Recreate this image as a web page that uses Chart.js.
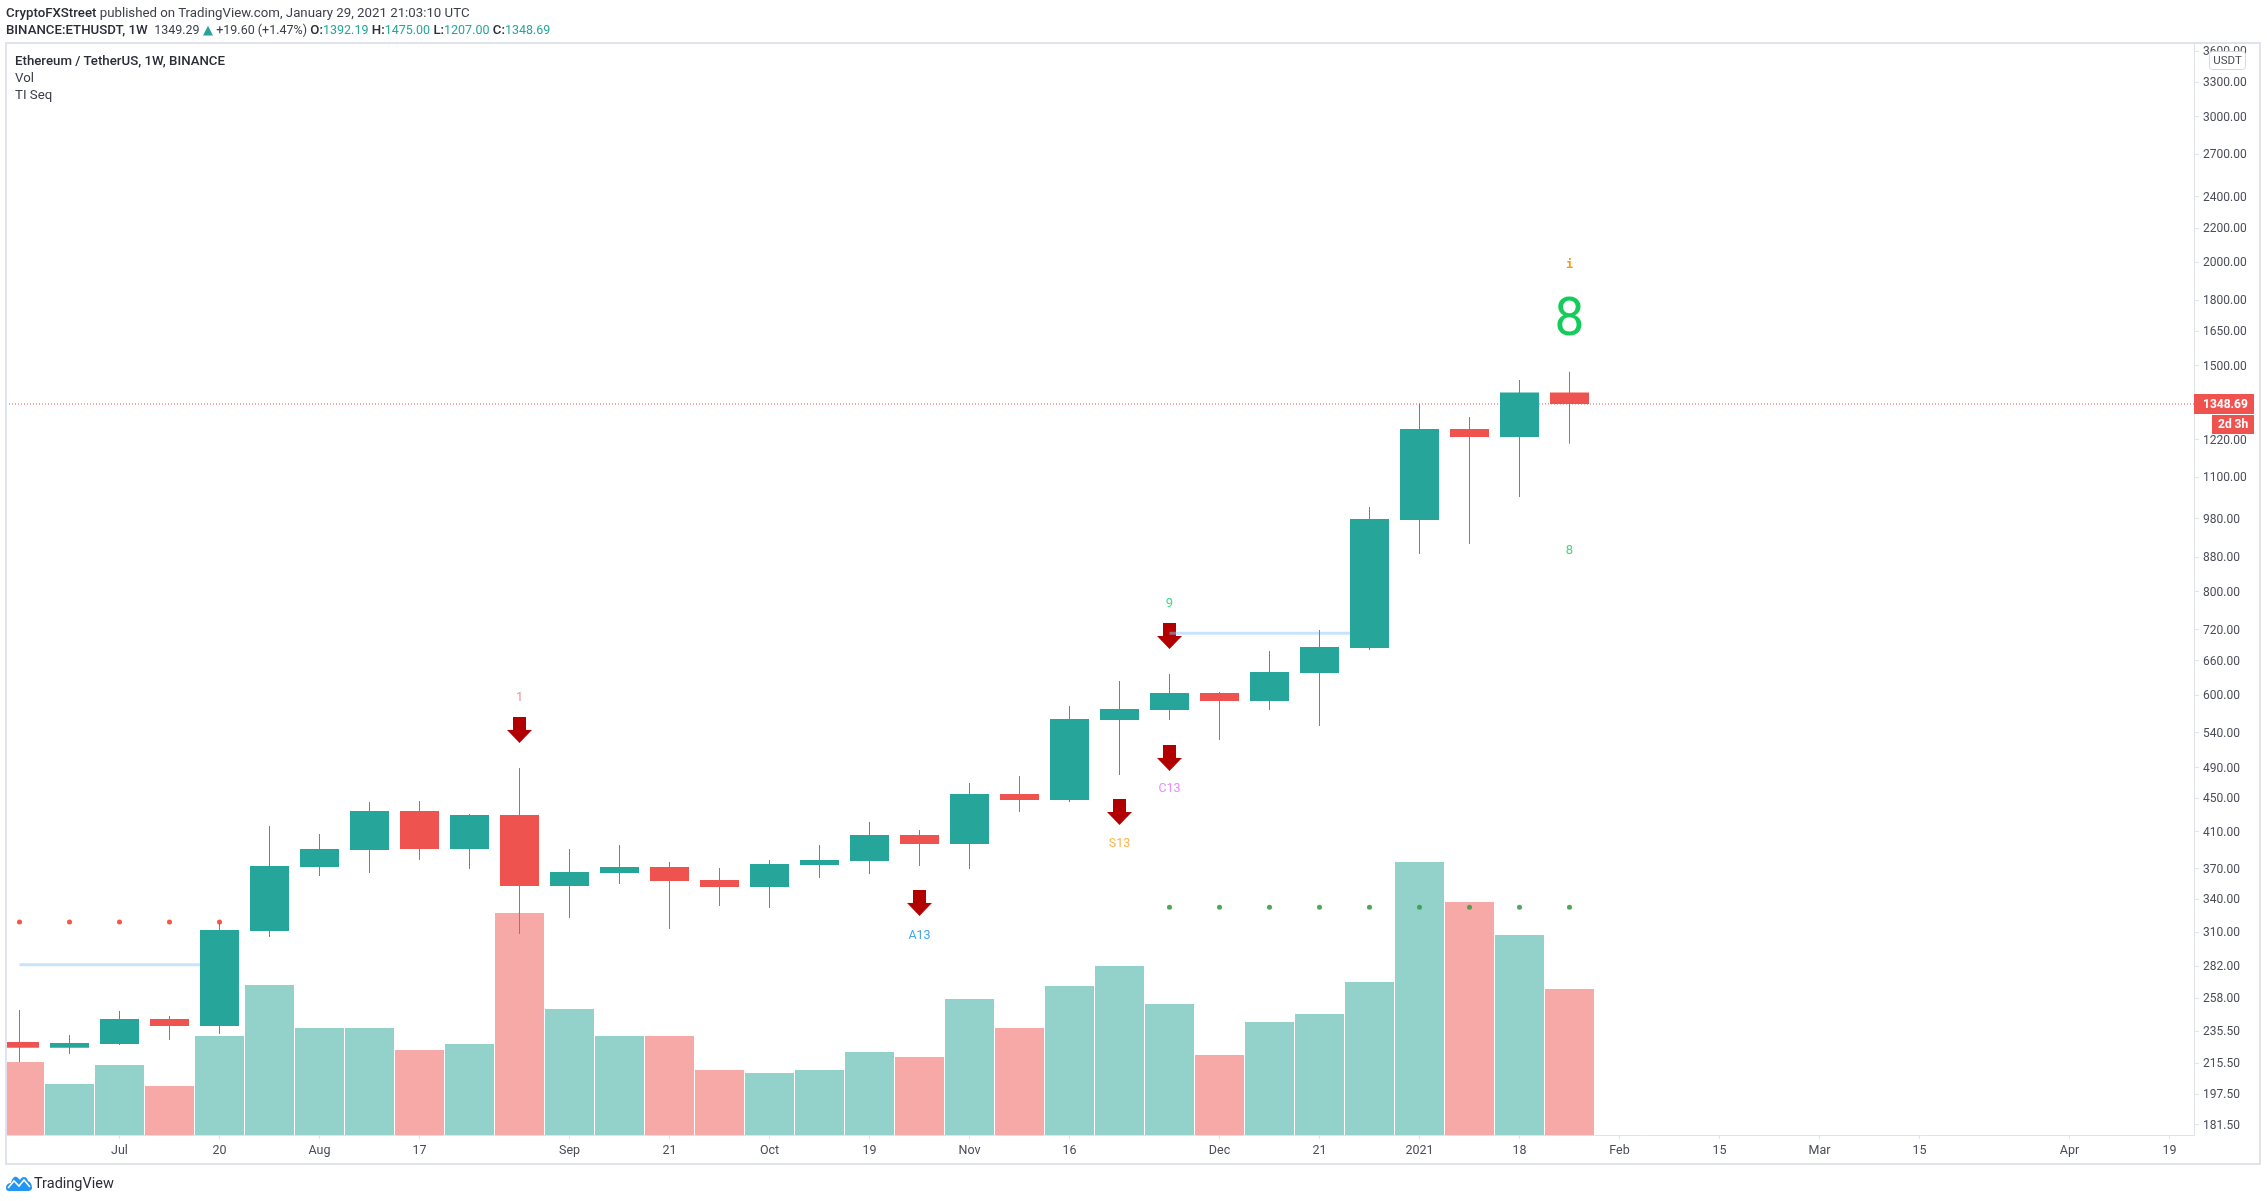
<!DOCTYPE html>
<html>
<head>
<meta charset="utf-8">
<title>ETHUSDT 1W</title>
<script src="https://cdn.jsdelivr.net/npm/chart.js@4/dist/chart.umd.min.js"></script>
<style>
  html, body { margin: 0; padding: 0; background: #fff; }
  #wrap { position: relative; width: 2267px; height: 1201px; overflow: hidden; font-family: Roboto, sans-serif; color: #3c3f4a; }
  canvas { position: absolute; left: 0; top: 0; }
  .t { position: absolute; white-space: nowrap; font-size: 13.25px; line-height: 17px; }
  .b { font-weight: 500; color: #2a2d38; }
  .g { color: #26a69a; }
  .n { font-size: 12.5px; }
</style>
</head>
<body>
<div id="wrap">
  <canvas id="chart" width="2267" height="1201"></canvas>
  <div class="t" style="left:6px;top:4px"><span class="b">CryptoFXStreet</span> published on TradingView.com, January 29, 2021 21:03:10 UTC</div>
  <div class="t" style="left:6px;top:21px"><span class="b">BINANCE:ETHUSDT, 1W</span>&nbsp; <span class="n">1349.29</span> <span class="g" style="font:13px/17px 'DejaVu Sans'">&#9650;</span> <span class="n">+19.60 (+1.47%)</span> <span class="b">O:</span><span class="g n">1392.19</span> <span class="b">H:</span><span class="g n">1475.00</span> <span class="b">L:</span><span class="g n">1207.00</span> <span class="b">C:</span><span class="g n">1348.69</span></div>
  <div class="t" style="left:15px;top:52px"><span class="b">Ethereum / TetherUS, 1W, BINANCE</span></div>
  <div class="t" style="left:15px;top:69px">Vol</div>
  <div class="t" style="left:15px;top:86px">TI Seq</div>
  <svg style="position:absolute;left:6px;top:1175px" width="26" height="16" viewBox="0 0 26 16">
    <path d="M0 13 C0 9 3 8 5 8 C6 3 9 0 12 3 L14 5 C16 1 21 1 22 6 C25 7 26 10 26 13 C26 15 24 16 22 16 L3 16 C1 16 0 15 0 13 Z" fill="#2196f3"/>
    <path d="M2 13 L8 6 L13 11 L18 5 L24 12" fill="none" stroke="#fff" stroke-width="1.6"/>
  </svg>
  <div class="t" style="left:34px;top:1175px;font-size:14.5px;color:#2a2d38">TradingView</div>
</div>
<script>
// weekly candles
var opens  = [228.5,224.8,227.3,243.6,238.9,311.2,371.9,389.9,434.6,391.0,429.8,352.8,365.8,371.9,358.7,351.8,374.0,378.2,406.5,396.5,455.6,448.1,559.8,575.7,603.5,590.2,638.0,684.0,976.7,1258.1,1230.4,1392.19];
var highs  = [249.8,233.0,249.1,245.7,318.2,416.9,407.7,445.6,446.9,431.0,489.9,391.0,395.4,377.1,370.9,379.2,395.4,421.5,412.2,469.8,479.1,582.1,624.0,636.3,605.2,678.3,719.1,1012.7,1350,1300.8,1441.9,1475];
var lows   = [216.2,221.0,226.6,229.8,233.7,306.1,362.7,365.8,379.2,369.8,308.7,322.7,354.7,313.0,333.6,331.8,360.7,364.7,372.9,369.8,433.4,445.6,480.4,559.8,529.5,575.7,550.6,680.2,888.5,913.6,1041.2,1207];
var closes = [224.8,227.9,243.6,238.9,312.1,372.9,391.0,434.6,391.0,429.8,352.8,366.8,371.9,357.7,351.8,375.0,379.2,406.5,396.5,455.6,448.1,561.4,577.2,603.5,590.2,639.8,685.9,979.4,1258.1,1230.4,1392.19,1348.69];
var volumes = [73,51,70,49,99,150,107,107,85,91,222,126,99,99,65,62,65,83,78,136,107,149,169,131,80,113,121,153,273,233,200,146];

var priceTicks = [3600,3300,3000,2700,2400,2200,2000,1800,1650,1500,1220,1100,980,880,800,720,660,600,540,490,450,410,370,340,310,282,258,235.5,215.5,197.5,181.5];
var timeTicks  = [2,4,6,8,11,13,15,17,19,21,24,26,28,30,32,34,36,38,41,43];
var timeLabels = ['Jul','20','Aug','17','Sep','21','Oct','19','Nov','16','Dec','21','2021','18','Feb','15','Mar','15','Apr','19'];

// TD sequential marks
var redDotIdx = [0,1,2,3,4];
var redDotVal = 319.1;
var greenDotIdx = [23,24,25,26,27,28,29,30,31];
var greenDotVal = 332.5;
var arrowIdx = [10,18,22,23,23];
var arrowVal = [544.5,336.5,433.4,503.7,707.2];
var seqIdx  = [10,23,23,22,18,31,31,31];
var seqVal  = [596.8,775.2,463.3,397.6,307.8,898.5,1700,1991];
var seqText = ['1','9','C13','S13','A13','8','8','i'];
var seqSize = [12,13,12.5,12.5,12.5,13,53,12];
var seqColor = ['#f88a8c','#3ddc7f','#e58cff','#ffb347','#42a5f5','#3ddc7f','#14cc5a','#ff9800'];
var levelIdx = [[0,4],[23,27]];
var levelVal = [283.2,712.6];

var lastClose = closes[closes.length - 1];
var up = '#26a69a', down = '#ef5350';
var frame = '#e0e3eb', tickText = '#4a4d58';
var idx = closes.map(function(c, i) { return i; });
function isUp(i) { return closes[i] >= opens[i]; }
function candleColor(i) { return isUp(i) ? up : down; }

// arrow used as a point style
function makeArrow() {
    var c = document.createElement('canvas');
    c.width = 25; c.height = 26;
    var g = c.getContext('2d');
    g.fillStyle = '#b20000';
    g.beginPath();
    g.moveTo(6, 0); g.lineTo(19, 0); g.lineTo(19, 13); g.lineTo(25, 13);
    g.lineTo(12.5, 26); g.lineTo(0, 13); g.lineTo(6, 13);
    g.closePath(); g.fill();
    return c;
}
var arrow = makeArrow();

var overlay = {
    id: 'overlay',
    afterDatasetsDraw: function(chart) {
        var ctx = chart.ctx, x = chart.scales.x, y = chart.scales.y, a = chart.chartArea;
        ctx.save();
        // seq numbers
        ctx.textAlign = 'center';
        ctx.textBaseline = 'middle';
        seqText.forEach(function(s, i) {
            ctx.font = s === 'i' ? 'bold 12px "DejaVu Sans Mono"' : seqSize[i] + 'px Roboto';
            ctx.fillStyle = seqColor[i];
            ctx.fillText(s, x.getPixelForValue(seqIdx[i]), y.getPixelForValue(seqVal[i]) + 1);
        });
        // frame
        ctx.strokeStyle = frame;
        ctx.lineWidth = 2;
        ctx.strokeRect(a.left, a.top, 2254, 1121);
        // last price labels
        var py = Math.round(y.getPixelForValue(lastClose));
        ctx.fillStyle = down;
        ctx.fillRect(a.right, py - 10, 60, 20);
        ctx.fillRect(a.right + 18, py + 11, 42, 19);
        ctx.fillStyle = '#fff';
        ctx.font = 'bold 12px Roboto';
        ctx.textAlign = 'left';
        ctx.fillText(lastClose.toFixed(2), a.right + 9, py + 0.5);
        ctx.fillText('2d 3h', a.right + 24, py + 21);
        // currency badge
        ctx.fillStyle = '#fff';
        ctx.strokeStyle = '#d6d8e0';
        ctx.lineWidth = 1;
        ctx.beginPath();
        ctx.roundRect(a.right + 15.5, 51.5, 36, 18, 3);
        ctx.fill(); ctx.stroke();
        ctx.fillStyle = tickText;
        ctx.font = '11.5px Roboto';
        ctx.textAlign = 'center';
        ctx.fillText('USDT', a.right + 33.5, 61);
        ctx.restore();
    }
};

var datasets = [];
datasets.push({
    type: 'bar', label: 'Vol', order: 50, yAxisID: 'vol', grouped: false,
    barThickness: 49, borderWidth: 0, inflateAmount: 0,
    backgroundColor: idx.map(function(i) { return isUp(i) ? '#93d2cb' : '#f7a9a7'; }),
    data: idx.map(function(i) { return { x: i, y: volumes[i] }; })
});
datasets.push({
    type: 'scatter', label: 'arrows', order: 40, yAxisID: 'y',
    pointStyle: arrow, pointRadius: 13,
    data: arrowIdx.map(function(v, i) { return { x: v, y: arrowVal[i] }; })
});
levelVal.forEach(function(v, n) {
    datasets.push({
        type: 'line', label: 'level', order: 30, yAxisID: 'y',
        borderColor: 'rgba(144,202,249,0.5)', borderWidth: 3, pointRadius: 0,
        data: levelIdx[n].map(function(i) { return { x: i, y: v }; })
    });
});
datasets.push({
    type: 'line', label: 'last', order: 25, yAxisID: 'y',
    borderColor: down, borderWidth: 1, borderDash: [1, 2], pointRadius: 0,
    data: [{ x: -0.27, y: lastClose }, { x: 43.49, y: lastClose }]
});
datasets.push({
    type: 'bar', label: 'wick', order: 20, yAxisID: 'y', grouped: false,
    barThickness: 1, borderWidth: 0, inflateAmount: 0,
    backgroundColor: idx.map(candleColor),
    data: idx.map(function(i) { return { x: i, y: [lows[i], highs[i]] }; })
});
datasets.push({
    type: 'bar', label: 'body', order: 15, yAxisID: 'y', grouped: false,
    barThickness: 39, borderWidth: 0, inflateAmount: 0,
    backgroundColor: idx.map(candleColor),
    data: idx.map(function(i) { return { x: i, y: [opens[i], closes[i]] }; })
});
datasets.push({
    type: 'scatter', label: 'sell setup', order: 10, yAxisID: 'y',
    pointRadius: 2.5, borderWidth: 0, backgroundColor: 'rgba(244,67,54,0.9)',
    data: redDotIdx.map(function(i) { return { x: i, y: redDotVal }; })
});
datasets.push({
    type: 'scatter', label: 'buy setup', order: 10, yAxisID: 'y',
    pointRadius: 2.5, borderWidth: 0, backgroundColor: 'rgba(56,160,70,0.9)',
    data: greenDotIdx.map(function(i) { return { x: i, y: greenDotVal }; })
});

new Chart(document.getElementById('chart').getContext('2d'), {
    type: 'bar',
    data: { datasets: datasets },
    plugins: [overlay],
    options: {
        responsive: false,
        animation: false,
        layout: { autoPadding: false, padding: { left: 6, top: 43, right: 7, bottom: 37 } },
        plugins: { legend: { display: false }, tooltip: { enabled: false } },
        scales: {
            x: {
                type: 'linear', min: -0.27, max: 43.49, offset: false,
                afterFit: function(s) { s.height = 29; s.paddingLeft = 0; s.paddingRight = 0; },
                afterBuildTicks: function(s) { s.ticks = timeTicks.map(function(v) { return { value: v }; }); },
                grid: { offset: false, drawOnChartArea: false, tickLength: 4, color: frame },
                border: { color: frame, width: 1 },
                ticks: {
                    autoSkip: false, maxRotation: 0, padding: 4, color: tickText, font: { family: 'Roboto', size: 12.5 },
                    callback: function(v) { return timeLabels[timeTicks.indexOf(v)]; }
                }
            },
            y: {
                type: 'logarithmic', position: 'right', min: 176.4, max: 3682,
                afterFit: function(s) { s.width = 66; s.paddingTop = 0; s.paddingBottom = 0; },
                afterBuildTicks: function(s) { s.ticks = priceTicks.map(function(v) { return { value: v }; }); },
                grid: { drawOnChartArea: false, tickLength: 5, color: frame },
                border: { color: frame, width: 1 },
                ticks: {
                    autoSkip: false, padding: 4, labelOffset: 1, color: tickText, font: { family: 'Roboto', size: 12 },
                    callback: function(v) { return Number(v).toFixed(2); }
                }
            },
            vol: { type: 'linear', display: false, min: 0, max: 1092 }
        }
    }
});
</script>
</body>
</html>
